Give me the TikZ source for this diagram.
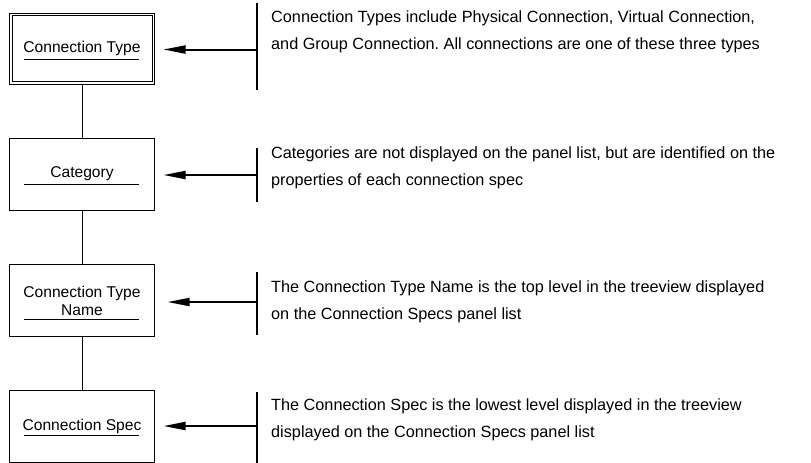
\documentclass[tikz,border=0pt]{standalone}
\usepackage{fontspec}
\setmainfont{Liberation Sans}
\usetikzlibrary{arrows.meta}
\frenchspacing

\begin{document}
\begin{tikzpicture}[x=1pt, y=-1pt,
  levelbox/.style={draw, line width=1pt, minimum width=145pt, minimum height=72pt,
    inner sep=0pt, align=center, font=\fontsize{15.6}{18}\selectfont},
  uline/.style={line width=1pt},
  link/.style={line width=1pt},
  marker/.style={line width=2pt},
  pointer/.style={line width=2pt, -{Triangle[length=22pt, width=8pt]}, shorten >=8.5pt},
  note/.style={anchor=west, inner sep=0pt, align=left, font=\fontsize{16.25}{27}\selectfont}]

\useasboundingbox (0,0) rectangle (811,463);

% hierarchy boxes
\node[levelbox, minimum height=71pt] (ctype) at (82,48.5) {Connection Type};
\draw[line width=1pt] ([shift={(3,3)}]ctype.north west) rectangle ([shift={(-3,-3)}]ctype.south east);
\node[levelbox] (cat)   at (82,174)   {Category};
\node[levelbox] (cname) at (82,300.5) {Connection Type\\Name};
\node[levelbox] (cspec) at (82,426)   {Connection Spec};

% underlines below the box titles
\draw[uline] ([shift={(-58,10.5)}]ctype.center) -- ([shift={(57,10.5)}]ctype.center);
\draw[uline] ([shift={(-58,10)}]cat.center)     -- ([shift={(57,10)}]cat.center);
\draw[uline] ([shift={(-58,18.5)}]cname.center) -- ([shift={(57,18.5)}]cname.center);
\draw[uline] ([shift={(-58,9)}]cspec.center)    -- ([shift={(57,9)}]cspec.center);

% vertical links between levels
\draw[link] (ctype) -- (cat);
\draw[link] (cat) -- (cname);
\draw[link] (cname) -- (cspec);

% comment markers
\coordinate (m1t) at (257,3);   \coordinate (m1b) at (257,90);  \coordinate (m1) at (257,49.5);
\coordinate (m2t) at (257,148); \coordinate (m2b) at (257,202); \coordinate (m2) at (257,175);
\coordinate (m3t) at (257,272); \coordinate (m3b) at (257,335); \coordinate (m3) at (257,302);
\coordinate (m4t) at (257,392); \coordinate (m4b) at (257,463); \coordinate (m4) at (257,426);

\draw[marker] (m1t) -- (m1b);
\draw[marker] (m2t) -- (m2b);
\draw[marker] (m3t) -- (m3b);
\draw[marker] (m4t) -- (m4b);

\draw[pointer] (m1) -- (m1 -| ctype.east);
\draw[pointer] (m2) -- (m2 -| cat.east);
\draw[pointer, shorten >=12.5pt] (m3) -- (m3 -| cname.east);
\draw[pointer] (m4) -- (m4 -| cspec.east);

% explanatory notes
\node[note] (n1) at (271,32)  {Connection Types include Physical Connection, Virtual Connection,\\and Group Connection. All connections are one of these three types};
\node[note] (n2) at (271,168) {Categories are not displayed on the panel list, but are identified on the\\properties of each connection spec};
\node[note] (n3) at (271,302) {The Connection Type Name is the top level in the treeview displayed\\on the Connection Specs panel list};
\node[note] (n4) at (271,420) {The Connection Spec is the lowest level displayed in the treeview\\displayed on the Connection Specs panel list};
\end{tikzpicture}
\end{document}
